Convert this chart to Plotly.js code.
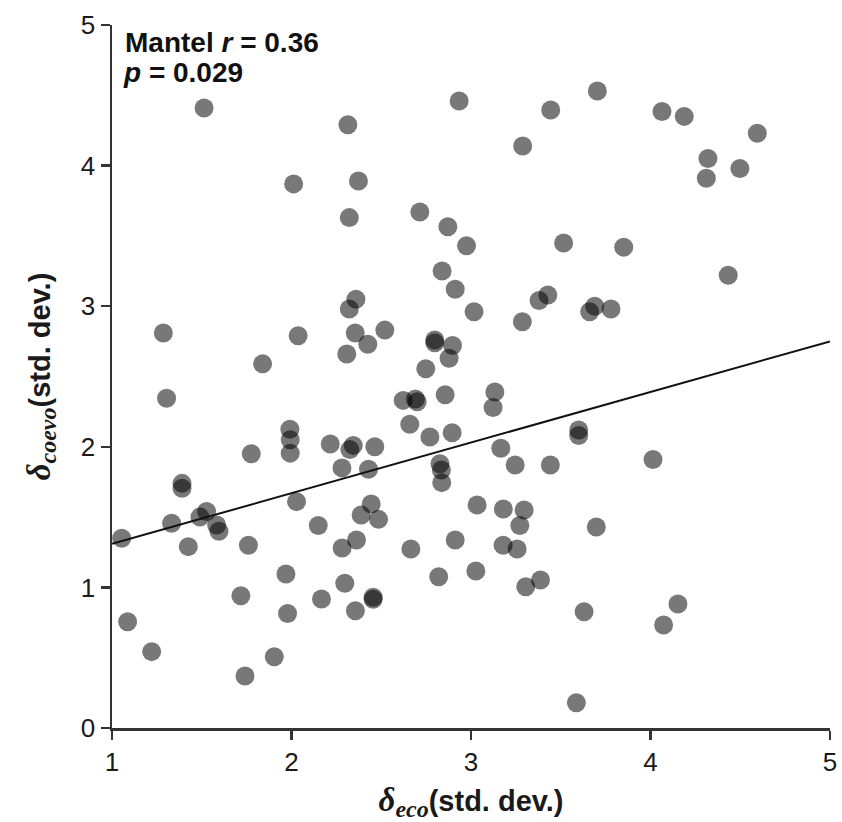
<!DOCTYPE html>
<html>
<head>
<meta charset="utf-8">
<script src="https://cdn.plot.ly/plotly-3.0.1.min.js"></script>
<style>html,body{margin:0;padding:0;background:#fff;}#chart{width:842px;height:822px;}</style>
</head>
<body>
<div id="chart"></div>
<script>
// delta_eco (x) values
const deltaEco = [
  1.513, 2.314, 2.934, 2.012, 2.373, 2.322, 2.715, 2.871, 2.975, 2.839,
  2.912, 3.017, 2.359, 2.322, 1.286, 2.037, 2.355, 2.520, 2.425, 2.308,
  1.839, 2.798, 2.798, 2.897, 2.878, 2.748, 2.856, 1.304, 2.622, 2.690,
  2.700, 3.704, 3.444, 3.288, 4.064, 4.188, 4.595, 4.320, 4.311, 4.498,
  3.516, 3.851, 4.433, 3.286, 3.428, 3.379, 3.689, 3.661, 3.780, 3.133,
  3.123, 2.659, 2.771, 2.895, 1.991, 1.993, 1.993, 1.776, 2.216, 2.344,
  2.325, 2.464, 2.281, 2.429, 2.827, 2.835, 2.837, 1.390, 1.390, 1.527,
  1.490, 1.583, 1.596, 1.332, 1.054, 1.425, 1.760, 2.028, 2.149, 2.388,
  2.444, 2.485, 2.282, 2.362, 2.665, 2.912, 2.820, 1.969, 2.297, 2.455,
  2.455, 2.167, 2.356, 1.978, 1.718, 1.087, 1.221, 1.904, 1.741, 3.600,
  3.600, 3.166, 3.246, 3.442, 4.014, 3.034, 3.180, 3.296, 3.272, 3.698,
  3.179, 3.257, 3.027, 3.305, 3.387, 3.630, 4.153, 4.073, 3.587
];
// delta_coevo (y) values
const deltaCoevo = [
  4.41, 4.29, 4.46, 3.87, 3.89, 3.63, 3.67, 3.565, 3.43, 3.25,
  3.12, 2.96, 3.05, 2.98, 2.81, 2.79, 2.81, 2.83, 2.73, 2.66,
  2.59, 2.76, 2.74, 2.72, 2.63, 2.555, 2.37, 2.345, 2.33, 2.34,
  2.32, 4.53, 4.395, 4.14, 4.385, 4.35, 4.23, 4.05, 3.91, 3.98,
  3.45, 3.42, 3.22, 2.89, 3.08, 3.04, 3.00, 2.96, 2.98, 2.39,
  2.28, 2.16, 2.07, 2.10, 2.125, 2.05, 1.955, 1.95, 2.02, 2.01,
  1.98, 2.00, 1.85, 1.84, 1.88, 1.835, 1.745, 1.74, 1.705, 1.54,
  1.50, 1.444, 1.40, 1.456, 1.35, 1.29, 1.30, 1.61, 1.44, 1.515,
  1.593, 1.484, 1.28, 1.337, 1.273, 1.337, 1.076, 1.095, 1.03, 0.93,
  0.915, 0.917, 0.834, 0.815, 0.941, 0.756, 0.543, 0.507, 0.37, 2.12,
  2.08, 1.99, 1.87, 1.87, 1.91, 1.586, 1.558, 1.55, 1.44, 1.43,
  1.30, 1.273, 1.117, 1.005, 1.053, 0.827, 0.882, 0.733, 0.18
];
// fitted line end points
const fitX = [1, 5];
const fitY = [1.31, 2.75];
const xTicks = [1, 2, 3, 4, 5];
const yTicks = [0, 1, 2, 3, 4, 5];

const traces = [
  {
    x: deltaEco, y: deltaCoevo, type: 'scatter', mode: 'markers',
    marker: {size: 19, color: 'rgba(0,0,0,0.53)', line: {width: 0}},
    cliponaxis: false, hoverinfo: 'x+y'
  },
  {
    x: fitX, y: fitY, type: 'scatter', mode: 'lines',
    line: {color: '#111', width: 2}, hoverinfo: 'skip'
  }
];

const serif = 'Liberation Serif';
function symTitle(sub) {
  return '<span style="font-family:' + serif + ';font-size:33px"><b><i>δ</i></b></span>' +
         '<sub><span style="font-family:' + serif + ';font-size:24px"><b><i>' + sub + '</i></b></span></sub>' +
         '<b>(std. dev.)</b>';
}
const layout = {
  width: 842, height: 822,
  margin: {l: 112, r: 12, t: 25, b: 94},
  paper_bgcolor: '#fff', plot_bgcolor: '#fff',
  showlegend: false,
  font: {family: 'Liberation Sans, Arial, sans-serif', color: '#1a1a1a'},
  xaxis: {
    range: [1, 5], tickvals: xTicks, ticktext: xTicks.map(String),
    showgrid: false, zeroline: false,
    showline: true, linecolor: '#333', linewidth: 2.5,
    ticks: 'outside', ticklen: 9, tickwidth: 2.5, tickcolor: '#333',
    tickfont: {size: 26, color: '#1a1a1a'},
    title: {text: symTitle('eco'), font: {size: 29, color: '#1a1a1a'}, standoff: 16}
  },
  yaxis: {
    range: [0, 5], tickvals: yTicks, ticktext: yTicks.map(String),
    showgrid: false, zeroline: false,
    showline: true, linecolor: '#333', linewidth: 2.5,
    ticks: 'outside', ticklen: 9, tickwidth: 2.5, tickcolor: '#333',
    tickfont: {size: 26, color: '#1a1a1a'},
    title: {text: symTitle('coevo'), font: {size: 29, color: '#1a1a1a'}, standoff: 22}
  },
  annotations: [
    {
      xref: 'paper', yref: 'paper', x: 0.016, y: 1.0, xanchor: 'left', yanchor: 'middle',
      yshift: -17, align: 'left', showarrow: false,
      text: '<b>Mantel <i>r</i> = 0.36</b>',
      font: {size: 28, color: '#111'}
    },
    {
      xref: 'paper', yref: 'paper', x: 0.012, y: 1.0, xanchor: 'left', yanchor: 'middle',
      yshift: -47, align: 'left', showarrow: false,
      text: '<b><i>p</i> = 0.029</b>',
      font: {size: 28, color: '#111'}
    }
  ]
};

Plotly.newPlot('chart', traces, layout, {displayModeBar: false, staticPlot: true});
</script>
</body>
</html>
